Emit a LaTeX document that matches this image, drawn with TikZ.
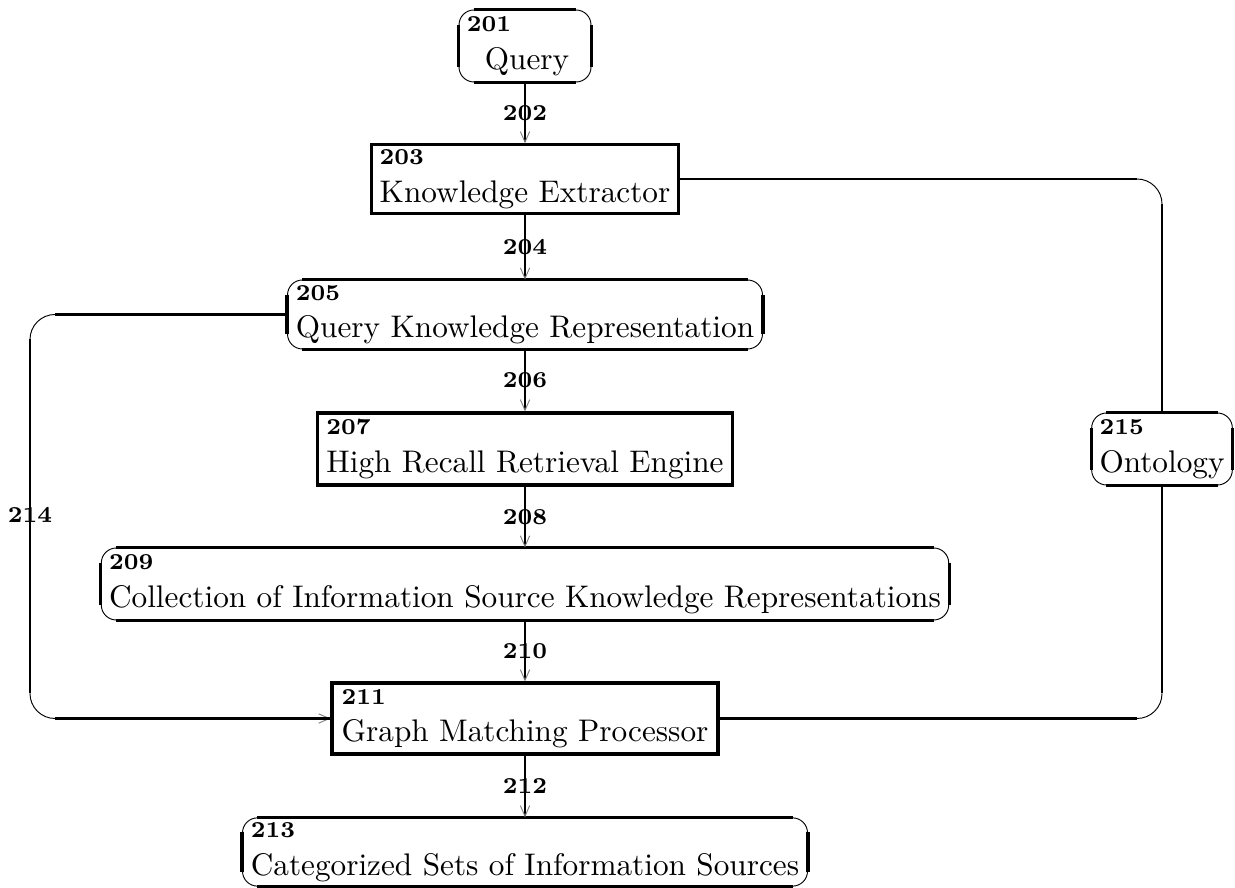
\documentclass[tikz,border=0pt]{standalone}
\usepackage{tikz}
\usepackage{amsmath}
\usetikzlibrary{arrows.meta}

\newlength{\pxu}
\setlength{\pxu}{0.32pt}
\newcommand{\refno}[1]{{\fontsize{7.3}{8.5}\selectfont\bfseries #1}}

\tikzset{
  side/.style={line width=1pt},
  wire/.style={line width=0.85pt},
  hair/.style={line width=0.3pt},
  tip/.style={-{Straight Barb[length=3.4pt,width=3pt,line width=0.3pt,color=gray]}},
  rbox/.style={draw, hair, rounded corners=4.8pt,
    append after command={
      ([xshift=4.8pt]\tikzlastnode.north west) edge[side] ([xshift=-4.8pt]\tikzlastnode.north east)
      ([xshift=4.8pt]\tikzlastnode.south west) edge[side] ([xshift=-4.8pt]\tikzlastnode.south east)
      ([yshift=-4.8pt]\tikzlastnode.north west) edge[side] ([yshift=4.8pt]\tikzlastnode.south west)
      ([yshift=-4.8pt]\tikzlastnode.north east) edge[side] ([yshift=4.8pt]\tikzlastnode.south east)
    }},
  sbox/.style={draw, side}
}

\begin{document}
\begin{tikzpicture}[x=0.32pt, y=-0.32pt]
   \useasboundingbox (0,0) rectangle (1235,888);
   \begin{scope}[every node/.style={align=left, inner xsep=2.5pt, inner ysep=1.5pt}]
    \node[rbox, minimum width=132\pxu, minimum height=72\pxu] (n201) at (525,46) {\refno{201}\\\hspace*{18\pxu}Query\hspace*{14\pxu}};
    \node[sbox, minimum width=307\pxu, minimum height=68\pxu] (n203) at (525,179) {\refno{203}\\Knowledge Extractor};
    \node[rbox, minimum width=475\pxu, minimum height=69\pxu] (n205) at (525,314.5) {\refno{205}\\Query Knowledge Representation};
    \node[sbox, minimum width=415\pxu, minimum height=72\pxu] (n207) at (525,449) {\refno{207}\\High Recall Retrieval Engine};
    \node[rbox, minimum width=846\pxu, minimum height=72\pxu] (n209) at (525,584) {\refno{209}\\Collection of Information Source Knowledge Representations};
    \node[sbox, minimum width=386\pxu, minimum height=71\pxu] (n211) at (525,718.5) {\refno{211}\\Graph Matching Processor};
    \node[rbox, minimum width=565\pxu, minimum height=68\pxu] (n213) at (525,852) {\refno{213}\\Categorized Sets of Information Sources};
    \node[rbox, minimum width=138\pxu, minimum height=72\pxu] (n215) at (1162,449) {\refno{215}\\Ontology};
   \end{scope}
   \begin{scope}[every edge/.style={draw, wire, tip}]
    \draw (n201) edge node{\refno{202}} (n203);
    \draw (n203) edge node{\refno{204}} (n205);
    \draw (n205) edge node{\refno{206}} (n207);
    \draw (n207) edge node{\refno{208}} (n209);
    \draw (n209) edge node{\refno{210}} (n211);
    \draw (n211) edge node{\refno{212}} (n213);
   \end{scope}
   % corners of the side links
   \coordinate (c214) at (30,515);
   \coordinate (k1) at (n205.west -| c214);
   \coordinate (k2) at (n211.west -| c214);
   \coordinate (k3) at (n203.east -| n215.north);
   \coordinate (k4) at (n211.east -| n215.south);
   % loop 214 back into the matcher
   \draw[hair, rounded corners=8pt, tip] (n205.west) -| (c214) node{\refno{214}} |- (n211.west);
   \draw[wire] (n205.west) -- ([xshift=8pt]k1)
      ([yshift=-8pt]k1) -- ([yshift=8pt]k2)
      ([xshift=8pt]k2) -- (n211.west);
   % ontology links
   \draw[hair, rounded corners=8pt] (n203.east) -| (n215.north);
   \draw[hair, rounded corners=8pt] (n215.south) |- (n211.east);
   \draw[wire] (n203.east) -- ([xshift=-8pt]k3)
      ([yshift=-8pt]k3) -- (n215.north)
      (n215.south) -- ([yshift=8pt]k4)
      ([xshift=-8pt]k4) -- (n211.east);
\end{tikzpicture}
\end{document}
